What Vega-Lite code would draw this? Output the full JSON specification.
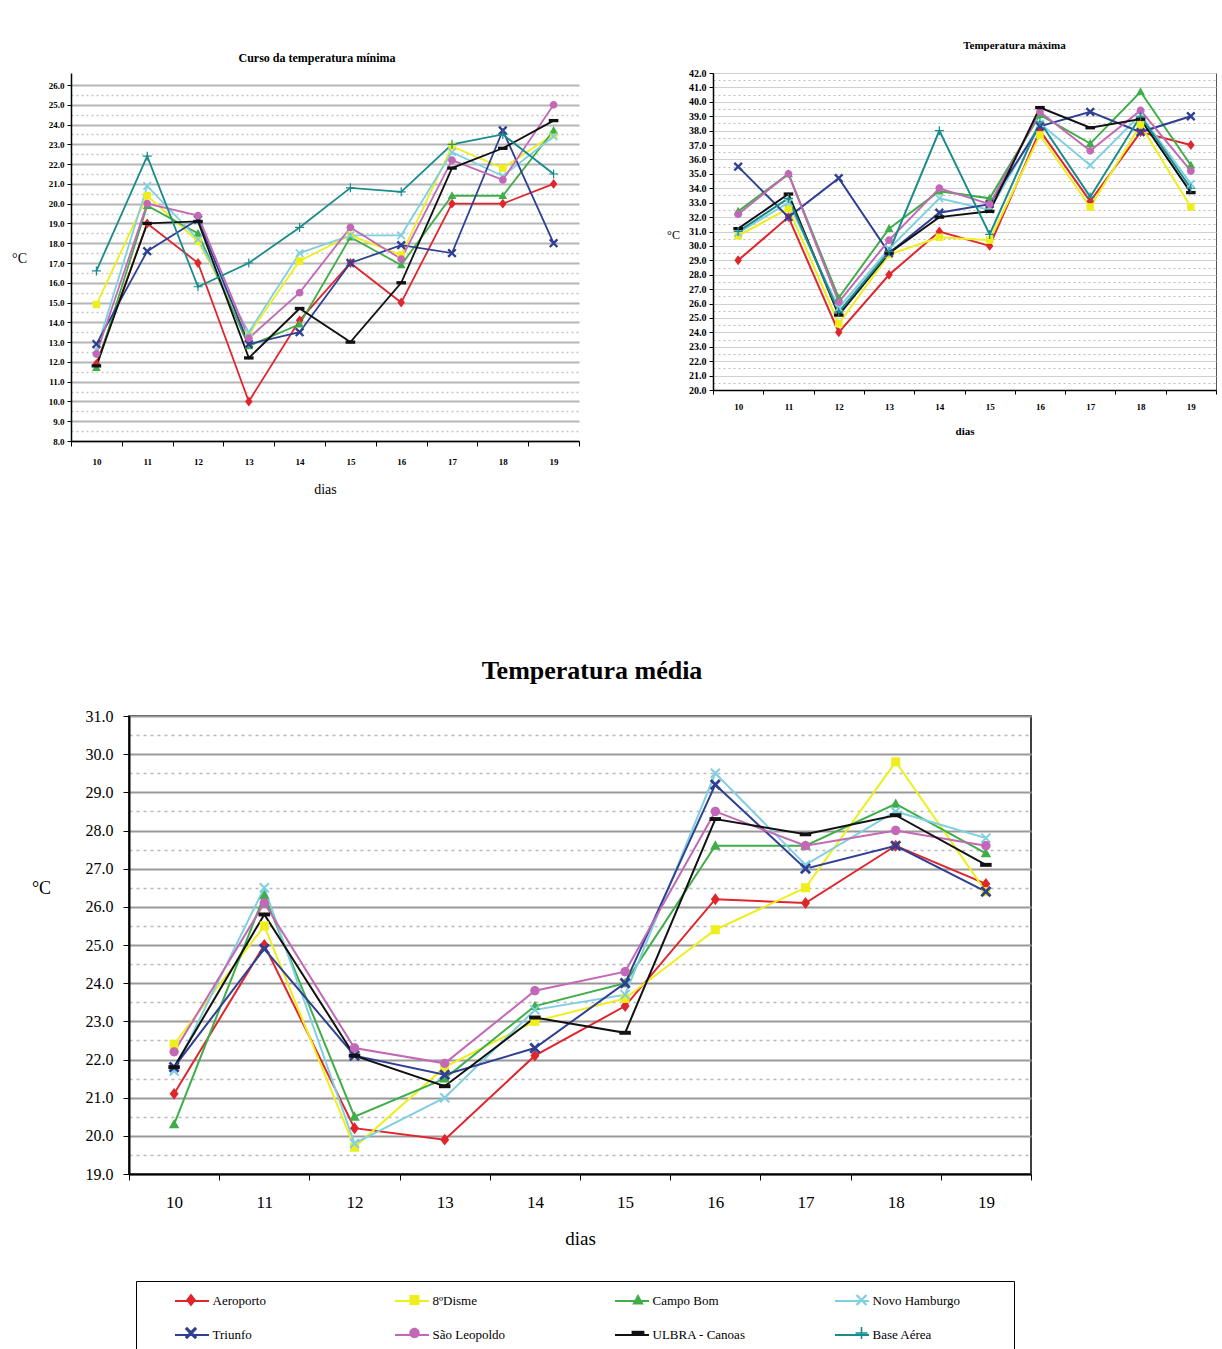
{
  "$schema": "https://vega.github.io/schema/vega-lite/v6.json",
  "background": "white",
  "padding": {"left": 11, "top": 39, "right": 0, "bottom": 0},
  "config": {
    "font": "Liberation Serif",
    "view": {"stroke": null},
    "axis": {"labelFont": "Liberation Serif", "titleFont": "Liberation Serif", "labelColor": "black", "titleColor": "black", "tickColor": "black", "domainColor": "black"}
  },
  "datasets": {
    "min": [
      {"d":10,"e":"Aeroporto","t":11.9},{"d":11,"e":"Aeroporto","t":19.0},{"d":12,"e":"Aeroporto","t":17.0},{"d":13,"e":"Aeroporto","t":10.0},{"d":14,"e":"Aeroporto","t":14.1},{"d":15,"e":"Aeroporto","t":17.0},{"d":16,"e":"Aeroporto","t":15.0},{"d":17,"e":"Aeroporto","t":20.0},{"d":18,"e":"Aeroporto","t":20.0},{"d":19,"e":"Aeroporto","t":21.0},
      {"d":10,"e":"8ºDisme","t":14.9},{"d":11,"e":"8ºDisme","t":20.4},{"d":12,"e":"8ºDisme","t":18.1},{"d":13,"e":"8ºDisme","t":13.4},{"d":14,"e":"8ºDisme","t":17.1},{"d":15,"e":"8ºDisme","t":18.4},{"d":16,"e":"8ºDisme","t":17.4},{"d":17,"e":"8ºDisme","t":22.9},{"d":18,"e":"8ºDisme","t":21.8},{"d":19,"e":"8ºDisme","t":23.5},
      {"d":10,"e":"Campo Bom","t":11.7},{"d":11,"e":"Campo Bom","t":19.9},{"d":12,"e":"Campo Bom","t":18.5},{"d":13,"e":"Campo Bom","t":12.8},{"d":14,"e":"Campo Bom","t":13.9},{"d":15,"e":"Campo Bom","t":18.3},{"d":16,"e":"Campo Bom","t":16.9},{"d":17,"e":"Campo Bom","t":20.4},{"d":18,"e":"Campo Bom","t":20.4},{"d":19,"e":"Campo Bom","t":23.7},
      {"d":10,"e":"Novo Hamburgo","t":12.6},{"d":11,"e":"Novo Hamburgo","t":20.9},{"d":12,"e":"Novo Hamburgo","t":18.2},{"d":13,"e":"Novo Hamburgo","t":13.5},{"d":14,"e":"Novo Hamburgo","t":17.5},{"d":15,"e":"Novo Hamburgo","t":18.4},{"d":16,"e":"Novo Hamburgo","t":18.4},{"d":17,"e":"Novo Hamburgo","t":22.6},{"d":18,"e":"Novo Hamburgo","t":21.4},{"d":19,"e":"Novo Hamburgo","t":23.4},
      {"d":10,"e":"Triunfo","t":12.9},{"d":11,"e":"Triunfo","t":17.6},{"d":12,"e":"Triunfo","t":19.2},{"d":13,"e":"Triunfo","t":12.9},{"d":14,"e":"Triunfo","t":13.5},{"d":15,"e":"Triunfo","t":17.0},{"d":16,"e":"Triunfo","t":17.9},{"d":17,"e":"Triunfo","t":17.5},{"d":18,"e":"Triunfo","t":23.7},{"d":19,"e":"Triunfo","t":18.0},
      {"d":10,"e":"São Leopoldo","t":12.4},{"d":11,"e":"São Leopoldo","t":20.0},{"d":12,"e":"São Leopoldo","t":19.4},{"d":13,"e":"São Leopoldo","t":13.2},{"d":14,"e":"São Leopoldo","t":15.5},{"d":15,"e":"São Leopoldo","t":18.8},{"d":16,"e":"São Leopoldo","t":17.2},{"d":17,"e":"São Leopoldo","t":22.2},{"d":18,"e":"São Leopoldo","t":21.2},{"d":19,"e":"São Leopoldo","t":25.0},
      {"d":10,"e":"ULBRA - Canoas","t":11.8},{"d":11,"e":"ULBRA - Canoas","t":19.0},{"d":12,"e":"ULBRA - Canoas","t":19.1},{"d":13,"e":"ULBRA - Canoas","t":12.2},{"d":14,"e":"ULBRA - Canoas","t":14.7},{"d":15,"e":"ULBRA - Canoas","t":13.0},{"d":16,"e":"ULBRA - Canoas","t":16.0},{"d":17,"e":"ULBRA - Canoas","t":21.8},{"d":18,"e":"ULBRA - Canoas","t":22.8},{"d":19,"e":"ULBRA - Canoas","t":24.2},
      {"d":10,"e":"Base Aérea","t":16.6},{"d":11,"e":"Base Aérea","t":22.4},{"d":12,"e":"Base Aérea","t":15.8},{"d":13,"e":"Base Aérea","t":17.0},{"d":14,"e":"Base Aérea","t":18.8},{"d":15,"e":"Base Aérea","t":20.8},{"d":16,"e":"Base Aérea","t":20.6},{"d":17,"e":"Base Aérea","t":23.0},{"d":18,"e":"Base Aérea","t":23.5},{"d":19,"e":"Base Aérea","t":21.5}
    ],
    "max": [
      {"d":10,"e":"Aeroporto","t":29.0},{"d":11,"e":"Aeroporto","t":32.0},{"d":12,"e":"Aeroporto","t":24.0},{"d":13,"e":"Aeroporto","t":28.0},{"d":14,"e":"Aeroporto","t":31.0},{"d":15,"e":"Aeroporto","t":30.0},{"d":16,"e":"Aeroporto","t":38.0},{"d":17,"e":"Aeroporto","t":33.1},{"d":18,"e":"Aeroporto","t":37.9},{"d":19,"e":"Aeroporto","t":37.0},
      {"d":10,"e":"8ºDisme","t":30.7},{"d":11,"e":"8ºDisme","t":32.6},{"d":12,"e":"8ºDisme","t":24.6},{"d":13,"e":"8ºDisme","t":29.4},{"d":14,"e":"8ºDisme","t":30.6},{"d":15,"e":"8ºDisme","t":30.4},{"d":16,"e":"8ºDisme","t":37.7},{"d":17,"e":"8ºDisme","t":32.7},{"d":18,"e":"8ºDisme","t":38.4},{"d":19,"e":"8ºDisme","t":32.7},
      {"d":10,"e":"Campo Bom","t":32.4},{"d":11,"e":"Campo Bom","t":35.0},{"d":12,"e":"Campo Bom","t":26.4},{"d":13,"e":"Campo Bom","t":31.2},{"d":14,"e":"Campo Bom","t":33.8},{"d":15,"e":"Campo Bom","t":33.3},{"d":16,"e":"Campo Bom","t":39.1},{"d":17,"e":"Campo Bom","t":37.1},{"d":18,"e":"Campo Bom","t":40.7},{"d":19,"e":"Campo Bom","t":35.6},
      {"d":10,"e":"Novo Hamburgo","t":30.9},{"d":11,"e":"Novo Hamburgo","t":33.0},{"d":12,"e":"Novo Hamburgo","t":25.7},{"d":13,"e":"Novo Hamburgo","t":29.8},{"d":14,"e":"Novo Hamburgo","t":33.3},{"d":15,"e":"Novo Hamburgo","t":32.5},{"d":16,"e":"Novo Hamburgo","t":38.5},{"d":17,"e":"Novo Hamburgo","t":35.6},{"d":18,"e":"Novo Hamburgo","t":39.1},{"d":19,"e":"Novo Hamburgo","t":34.3},
      {"d":10,"e":"Triunfo","t":35.5},{"d":11,"e":"Triunfo","t":32.0},{"d":12,"e":"Triunfo","t":34.7},{"d":13,"e":"Triunfo","t":29.5},{"d":14,"e":"Triunfo","t":32.3},{"d":15,"e":"Triunfo","t":32.9},{"d":16,"e":"Triunfo","t":38.3},{"d":17,"e":"Triunfo","t":39.3},{"d":18,"e":"Triunfo","t":37.9},{"d":19,"e":"Triunfo","t":39.0},
      {"d":10,"e":"São Leopoldo","t":32.2},{"d":11,"e":"São Leopoldo","t":35.0},{"d":12,"e":"São Leopoldo","t":26.1},{"d":13,"e":"São Leopoldo","t":30.4},{"d":14,"e":"São Leopoldo","t":34.0},{"d":15,"e":"São Leopoldo","t":32.9},{"d":16,"e":"São Leopoldo","t":39.3},{"d":17,"e":"São Leopoldo","t":36.6},{"d":18,"e":"São Leopoldo","t":39.4},{"d":19,"e":"São Leopoldo","t":35.2},
      {"d":10,"e":"ULBRA - Canoas","t":31.2},{"d":11,"e":"ULBRA - Canoas","t":33.6},{"d":12,"e":"ULBRA - Canoas","t":25.2},{"d":13,"e":"ULBRA - Canoas","t":29.5},{"d":14,"e":"ULBRA - Canoas","t":32.0},{"d":15,"e":"ULBRA - Canoas","t":32.4},{"d":16,"e":"ULBRA - Canoas","t":39.6},{"d":17,"e":"ULBRA - Canoas","t":38.2},{"d":18,"e":"ULBRA - Canoas","t":38.8},{"d":19,"e":"ULBRA - Canoas","t":33.7},
      {"d":10,"e":"Base Aérea","t":31.0},{"d":11,"e":"Base Aérea","t":33.3},{"d":12,"e":"Base Aérea","t":25.4},{"d":13,"e":"Base Aérea","t":29.6},{"d":14,"e":"Base Aérea","t":38.0},{"d":15,"e":"Base Aérea","t":30.8},{"d":16,"e":"Base Aérea","t":38.6},{"d":17,"e":"Base Aérea","t":33.4},{"d":18,"e":"Base Aérea","t":39.0},{"d":19,"e":"Base Aérea","t":34.0}
    ],
    "media": [
      {"d":10,"e":"Aeroporto","t":21.1},{"d":11,"e":"Aeroporto","t":25.0},{"d":12,"e":"Aeroporto","t":20.2},{"d":13,"e":"Aeroporto","t":19.9},{"d":14,"e":"Aeroporto","t":22.1},{"d":15,"e":"Aeroporto","t":23.4},{"d":16,"e":"Aeroporto","t":26.2},{"d":17,"e":"Aeroporto","t":26.1},{"d":18,"e":"Aeroporto","t":27.6},{"d":19,"e":"Aeroporto","t":26.6},
      {"d":10,"e":"8ºDisme","t":22.4},{"d":11,"e":"8ºDisme","t":25.5},{"d":12,"e":"8ºDisme","t":19.7},{"d":13,"e":"8ºDisme","t":21.8},{"d":14,"e":"8ºDisme","t":23.0},{"d":15,"e":"8ºDisme","t":23.6},{"d":16,"e":"8ºDisme","t":25.4},{"d":17,"e":"8ºDisme","t":26.5},{"d":18,"e":"8ºDisme","t":29.8},{"d":19,"e":"8ºDisme","t":26.4},
      {"d":10,"e":"Campo Bom","t":20.3},{"d":11,"e":"Campo Bom","t":26.3},{"d":12,"e":"Campo Bom","t":20.5},{"d":13,"e":"Campo Bom","t":21.5},{"d":14,"e":"Campo Bom","t":23.4},{"d":15,"e":"Campo Bom","t":24.0},{"d":16,"e":"Campo Bom","t":27.6},{"d":17,"e":"Campo Bom","t":27.6},{"d":18,"e":"Campo Bom","t":28.7},{"d":19,"e":"Campo Bom","t":27.4},
      {"d":10,"e":"Novo Hamburgo","t":21.7},{"d":11,"e":"Novo Hamburgo","t":26.5},{"d":12,"e":"Novo Hamburgo","t":19.8},{"d":13,"e":"Novo Hamburgo","t":21.0},{"d":14,"e":"Novo Hamburgo","t":23.3},{"d":15,"e":"Novo Hamburgo","t":23.7},{"d":16,"e":"Novo Hamburgo","t":29.5},{"d":17,"e":"Novo Hamburgo","t":27.1},{"d":18,"e":"Novo Hamburgo","t":28.5},{"d":19,"e":"Novo Hamburgo","t":27.8},
      {"d":10,"e":"Triunfo","t":21.8},{"d":11,"e":"Triunfo","t":24.9},{"d":12,"e":"Triunfo","t":22.1},{"d":13,"e":"Triunfo","t":21.6},{"d":14,"e":"Triunfo","t":22.3},{"d":15,"e":"Triunfo","t":24.0},{"d":16,"e":"Triunfo","t":29.2},{"d":17,"e":"Triunfo","t":27.0},{"d":18,"e":"Triunfo","t":27.6},{"d":19,"e":"Triunfo","t":26.4},
      {"d":10,"e":"São Leopoldo","t":22.2},{"d":11,"e":"São Leopoldo","t":26.1},{"d":12,"e":"São Leopoldo","t":22.3},{"d":13,"e":"São Leopoldo","t":21.9},{"d":14,"e":"São Leopoldo","t":23.8},{"d":15,"e":"São Leopoldo","t":24.3},{"d":16,"e":"São Leopoldo","t":28.5},{"d":17,"e":"São Leopoldo","t":27.6},{"d":18,"e":"São Leopoldo","t":28.0},{"d":19,"e":"São Leopoldo","t":27.6},
      {"d":10,"e":"ULBRA - Canoas","t":21.8},{"d":11,"e":"ULBRA - Canoas","t":25.8},{"d":12,"e":"ULBRA - Canoas","t":22.1},{"d":13,"e":"ULBRA - Canoas","t":21.3},{"d":14,"e":"ULBRA - Canoas","t":23.1},{"d":15,"e":"ULBRA - Canoas","t":22.7},{"d":16,"e":"ULBRA - Canoas","t":28.3},{"d":17,"e":"ULBRA - Canoas","t":27.9},{"d":18,"e":"ULBRA - Canoas","t":28.4},{"d":19,"e":"ULBRA - Canoas","t":27.1}
    ]
  },
  "spacing": 161,
  "vconcat": [
    {
      "bounds": "flush",
      "spacing": 134,
      "hconcat": [
        {
          "width": 508, "height": 368,
          "data": {"name": "min"},
          "title": {"text": "Curso da temperatura mínima", "font": "Liberation Serif", "fontSize": 12, "fontWeight": "bold", "frame": "group", "anchor": "middle", "dx": -8, "offset": -4, "baseline": "bottom"},
          "encoding": {
            "x": {"field": "d", "type": "ordinal", "bandPosition": 0.5, "scale": {"type": "band", "paddingInner": 0, "paddingOuter": 0},
              "axis": {"title": "dias", "labelAngle": 0, "tickBand": "extent", "grid": false, "tickSize": 5, "labelPadding": 11, "labelFontSize": 9, "labelFontWeight": "bold", "titleFontSize": 14, "titleFontWeight": "normal", "titlePadding": 16, "domainWidth": 1.5}},
            "y": {"field": "t", "type": "quantitative", "scale": {"domain": [8, 26.607], "nice": false, "zero": false},
              "axis": {"values": [8,8.5,9,9.5,10,10.5,11,11.5,12,12.5,13,13.5,14,14.5,15,15.5,16,16.5,17,17.5,18,18.5,19,19.5,20,20.5,21,21.5,22,22.5,23,23.5,24,24.5,25,25.5,26],
                "format": ".1f", "labelExpr": "datum.value % 1 === 0 ? datum.label : ''",
                "grid": true,
                "gridColor": {"condition": {"test": "datum.value % 1 !== 0", "value": "#c4c4c4"}, "value": "#b5b5b5"},
                "gridDash": {"condition": {"test": "datum.value % 1 !== 0", "value": [2, 3]}, "value": []},
                "gridWidth": {"condition": {"test": "datum.value % 1 !== 0", "value": 1.5}, "value": 2},
                "tickOpacity": {"condition": {"test": "datum.value % 1 !== 0", "value": 0}, "value": 1},
                "tickSize": 4, "labelPadding": 3, "labelFontSize": 9, "labelFontWeight": "bold",
                "title": "°C", "titleAngle": 0, "titleX": -52, "titleY": 185, "titleFontSize": 14, "titleFontWeight": "normal", "titleAlign": "center", "titleBaseline": "middle", "domainWidth": 1.5}}
          },
          "layer": [
            {"mark": {"type": "line", "strokeWidth": 1.8},
             "encoding": {
               "stroke": {"field": "e", "type": "nominal",
                 "scale": {"domain": ["Base Aérea","Aeroporto","8ºDisme","Campo Bom","Novo Hamburgo","Triunfo","São Leopoldo","ULBRA - Canoas"], "range": ["#1a8b8b","#e0252d","#eeee1c","#3fae48","#80cfe0","#2f3f92","#c268b6","#111111"]},
                 "legend": {"orient": "none", "legendX": 65, "legendY": 1208, "direction": "horizontal", "columns": 4, "gridAlign": "all",
                   "values": ["Aeroporto","8ºDisme","Campo Bom","Novo Hamburgo","Triunfo","São Leopoldo","ULBRA - Canoas","Base Aérea"],
                   "title": "\u00a0", "titleOrient": "right", "titleFontSize": 13, "titlePadding": 45,
                   "padding": 9, "symbolOffset": 36, "symbolSize": 400, "symbolType": "M-1.7,0L1.7,0", "symbolStrokeWidth": 2, "labelOffset": 9.5,
                   "labelFontSize": 13, "labelFont": "Liberation Serif", "labelColor": "black", "labelLimit": 400,
                   "columnPadding": 59, "rowPadding": 16, "strokeColor": "black"}}
             }},
            {"mark": {"type": "point", "filled": true, "size": 225, "opacity": 1},
             "encoding": {
               "color": {"field": "e", "type": "nominal",
                 "scale": {"domain": ["Aeroporto","8ºDisme","Campo Bom","Novo Hamburgo","Triunfo","São Leopoldo","ULBRA - Canoas","Base Aérea"], "range": ["#e0252d","#eeee1c","#3fae48","#80cfe0","#2f3f92","#c268b6","#111111","#1a8b8b"]},
                 "legend": {"orient": "none", "legendX": 65, "legendY": 1208, "title": null, "direction": "horizontal", "columns": 4, "gridAlign": "all",
                   "padding": 9, "symbolOffset": 36, "symbolSize": 400, "symbolStrokeWidth": 0, "symbolOpacity": 1, "labelOffset": 9.5,
                   "labelFontSize": 13, "labelFont": "Liberation Serif", "labelExpr": "''", "labelLimit": 400,
                   "columnPadding": 157.5, "rowPadding": 16}},
               "shape": {"field": "e", "type": "nominal", "legend": null,
                 "scale": {"domain": ["Aeroporto","8ºDisme","Campo Bom","Novo Hamburgo","Triunfo","São Leopoldo","ULBRA - Canoas","Base Aérea"],
                   "range": [
                     "M0,-0.66L0.5,0L0,0.66L-0.5,0Z",
                     "M-0.5,-0.5L0.5,-0.5L0.5,0.5L-0.5,0.5Z",
                     "M0,-0.6L0.58,0.44L-0.58,0.44Z",
                     "M-0.42,-0.58L0.58,0.42L0.42,0.58L-0.58,-0.42ZM0.42,-0.58L0.58,-0.42L-0.42,0.58L-0.58,0.42Z",
                     "M-0.4,-0.62L0.62,0.4L0.4,0.62L-0.62,-0.4ZM0.4,-0.62L0.62,-0.4L-0.4,0.62L-0.62,0.4Z",
                     "M-0.52,0A0.52,0.52,0,1,0,0.52,0A0.52,0.52,0,1,0,-0.52,0Z",
                     "M-0.64,-0.22L0.64,-0.22L0.64,0.22L-0.64,0.22Z",
                     "M-0.6,-0.08L0.6,-0.08L0.6,0.08L-0.6,0.08ZM-0.08,-0.6L0.08,-0.6L0.08,0.6L-0.08,0.6Z"
                   ]}}
             }}
          ]
        },
        {
          "width": 503, "height": 317,
          "data": {"name": "max"},
          "view": {"stroke": "#555555", "strokeWidth": 1},
          "title": {"text": "Temperatura máxima", "font": "Liberation Serif", "fontSize": 11, "fontWeight": "bold", "frame": "group", "anchor": "middle", "dx": 50, "offset": 6, "baseline": "bottom"},
          "encoding": {
            "x": {"field": "d", "type": "ordinal", "bandPosition": 0.5, "scale": {"type": "band", "paddingInner": 0, "paddingOuter": 0},
              "axis": {"title": "dias", "labelAngle": 0, "tickBand": "extent", "grid": false, "tickSize": 4, "labelPadding": 8, "labelFontSize": 9, "labelFontWeight": "bold", "titleFontSize": 11, "titleFontWeight": "bold", "titlePadding": 14, "domainWidth": 1.5}},
            "y": {"field": "t", "type": "quantitative", "scale": {"domain": [20, 42], "nice": false, "zero": false},
              "axis": {"values": [20,20.5,21,21.5,22,22.5,23,23.5,24,24.5,25,25.5,26,26.5,27,27.5,28,28.5,29,29.5,30,30.5,31,31.5,32,32.5,33,33.5,34,34.5,35,35.5,36,36.5,37,37.5,38,38.5,39,39.5,40,40.5,41,41.5,42],
                "format": ".1f", "labelExpr": "datum.value % 1 === 0 ? datum.label : ''",
                "grid": true,
                "gridColor": {"condition": {"test": "datum.value % 1 !== 0", "value": "#bdbdbd"}, "value": "#d0d0d0"},
                "gridDash": {"condition": {"test": "datum.value % 1 !== 0", "value": [2, 3]}, "value": []},
                "gridWidth": {"condition": {"test": "datum.value % 1 !== 0", "value": 1.2}, "value": 1},
                "tickOpacity": {"condition": {"test": "datum.value % 1 !== 0", "value": 0}, "value": 1},
                "tickSize": 4, "labelPadding": 3, "labelFontSize": 10, "labelFontWeight": "bold",
                "title": "°C", "titleAngle": 0, "titleX": -40, "titleY": 161, "titleFontSize": 12, "titleFontWeight": "normal", "titleAlign": "center", "titleBaseline": "middle", "domainWidth": 1.5}}
          },
          "layer": [
            {"mark": {"type": "line", "strokeWidth": 2}, "encoding": {"stroke": {"field": "e", "type": "nominal"}}},
            {"mark": {"type": "point", "filled": true, "size": 225, "opacity": 1},
             "encoding": {
               "color": {"field": "e", "type": "nominal"},
               "shape": {"field": "e", "type": "nominal", "legend": null}
             }}
          ]
        }
      ]
    },
    {
      "bounds": "flush",
      "spacing": 57,
      "hconcat": [
        {"width": 1, "height": 1, "data": {"values": [{"z": 0}]}, "mark": {"type": "point", "opacity": 0}, "encoding": {}},
        {
          "width": 902, "height": 458,
          "data": {"name": "media"},
          "view": {"stroke": "black", "strokeWidth": 1.5},
          "title": {"text": "Temperatura média", "font": "Liberation Serif", "fontSize": 26, "fontWeight": "bold", "frame": "group", "anchor": "middle", "dx": 12, "offset": -2, "baseline": "bottom"},
          "encoding": {
            "x": {"field": "d", "type": "ordinal", "bandPosition": 0.5, "scale": {"type": "band", "paddingInner": 0, "paddingOuter": 0},
              "axis": {"title": "dias", "labelAngle": 0, "tickBand": "extent", "grid": false, "tickSize": 6, "labelPadding": 14, "labelFontSize": 17, "titleFontSize": 19, "titleFontWeight": "normal", "titlePadding": 19, "domainWidth": 2}},
            "y": {"field": "t", "type": "quantitative", "scale": {"domain": [19, 31], "nice": false, "zero": false},
              "axis": {"values": [19,19.5,20,20.5,21,21.5,22,22.5,23,23.5,24,24.5,25,25.5,26,26.5,27,27.5,28,28.5,29,29.5,30,30.5,31],
                "format": ".1f", "labelExpr": "datum.value % 1 === 0 ? datum.label : ''",
                "grid": true,
                "gridColor": {"condition": {"test": "datum.value % 1 !== 0", "value": "#b8b8b8"}, "value": "#999999"},
                "gridDash": {"condition": {"test": "datum.value % 1 !== 0", "value": [3, 4]}, "value": []},
                "gridWidth": {"condition": {"test": "datum.value % 1 !== 0", "value": 1.5}, "value": 2},
                "tickOpacity": {"condition": {"test": "datum.value % 1 !== 0", "value": 0}, "value": 1},
                "tickSize": 6, "labelPadding": 10, "labelFontSize": 16,
                "title": "°C", "titleAngle": 0, "titleX": -88, "titleY": 172, "titleFontSize": 18, "titleFontWeight": "normal", "titleAlign": "center", "titleBaseline": "middle", "domainWidth": 2}}
          },
          "layer": [
            {"mark": {"type": "line", "strokeWidth": 2}, "encoding": {"stroke": {"field": "e", "type": "nominal"}}},
            {"mark": {"type": "point", "filled": true, "size": 324, "opacity": 1},
             "encoding": {
               "color": {"field": "e", "type": "nominal"},
               "shape": {"field": "e", "type": "nominal", "legend": null}
             }}
          ]
        }
      ]
    }
  ]
}
